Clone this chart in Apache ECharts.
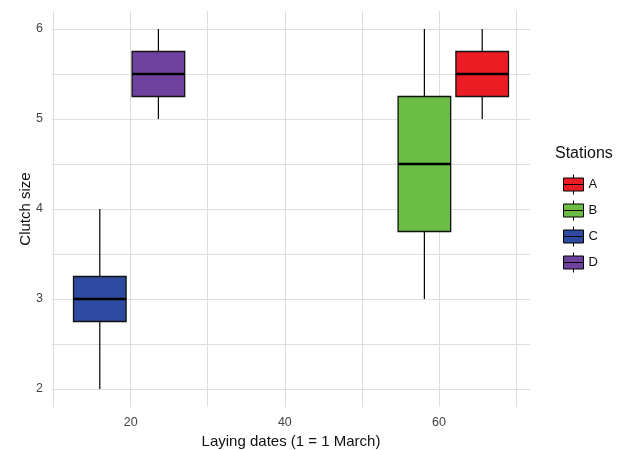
<!DOCTYPE html>
<html><head><meta charset="utf-8">
<script src="https://cdn.jsdelivr.net/npm/echarts@6/dist/echarts.min.js"></script>
<style>html,body{margin:0;padding:0;background:#fff}#c{width:623px;height:450px}</style>
</head><body><div id="c"></div>
<script>
// Stations and their box statistics: [x (laying date), min, Q1, median, Q3, max]
const stations = ['A', 'B', 'C', 'D'];
const stationColors = ['#ec1c24', '#6abd45', '#2f4ba1', '#7042a0'];
const boxA = [65.6, 5, 5.25, 5.5, 5.75, 6];
const boxB = [58.1, 3, 3.75, 4.5, 5.25, 6];
const boxC = [16.0, 2, 2.75, 3, 3.25, 4];
const boxD = [23.6, 5, 5.25, 5.5, 5.75, 6];
const boxes = [boxA, boxB, boxC, boxD];
const xTickLabels = [20, 40, 60];
const xGridValues = [10, 20, 30, 40, 50, 60, 70];
const yTickLabels = [2, 3, 4, 5, 6];
const yGridValues = [2, 2.5, 3, 3.5, 4, 4.5, 5, 5.5, 6];

const BOX_W = 6.82;
const FONT = '"Liberation Sans", Arial, sans-serif';
const iconPath = 'path://M0,3.5 L20,3.5 L20,16.5 L0,16.5 Z M0,10 L20,10 M10,0 L10,3.5 M10,16.5 L10,20';

function renderBox(params, api) {
  const x = api.value(0);
  const pMin = api.coord([x, api.value(1)]);
  const pQ1 = api.coord([x, api.value(2)]);
  const pMed = api.coord([x, api.value(3)]);
  const pQ3 = api.coord([x, api.value(4)]);
  const pMax = api.coord([x, api.value(5)]);
  const w = api.size([BOX_W, 0])[0];
  const cx = pMed[0];
  const color = api.visual('color');
  return {
    type: 'group',
    children: [
      {type: 'line', shape: {x1: cx, y1: pMax[1], x2: cx, y2: pQ3[1]}, style: {stroke: '#000', lineWidth: 1.2}},
      {type: 'line', shape: {x1: cx, y1: pQ1[1], x2: cx, y2: pMin[1]}, style: {stroke: '#000', lineWidth: 1.2}},
      {type: 'rect', shape: {x: cx - w / 2, y: pQ3[1], width: w, height: pQ1[1] - pQ3[1]}, style: {fill: color, stroke: '#111', lineWidth: 1.3}},
      {type: 'line', shape: {x1: cx - w / 2, y1: pMed[1], x2: cx + w / 2, y2: pMed[1]}, style: {stroke: '#000', lineWidth: 2.4}}
    ]
  };
}

const chart = echarts.init(document.getElementById('c'), null, {renderer: 'canvas'});
chart.setOption({
  animation: false,
  backgroundColor: '#fff',
  grid: {left: 52, right: 93, top: 11, bottom: 43, containLabel: false, outerBoundsMode: 'none'},
  xAxis: {
    type: 'value', min: 9.8, max: 71.8,
    name: 'Laying dates (1 = 1 March)', nameLocation: 'middle', nameGap: 27, nameMoveOverlap: false,
    nameTextStyle: {fontFamily: FONT, fontSize: 15, color: '#111'},
    axisLine: {show: false},
    axisTick: {show: false, customValues: xGridValues},
    axisLabel: {customValues: xTickLabels, fontFamily: FONT, fontSize: 12.5, color: '#444', margin: 9},
    splitLine: {show: true, lineStyle: {color: '#dedede', width: 1}}
  },
  yAxis: {
    type: 'value', min: 1.8, max: 6.2,
    name: 'Clutch size', nameLocation: 'middle', nameGap: 19, nameRotate: 90, nameMoveOverlap: false,
    nameTextStyle: {fontFamily: FONT, fontSize: 15, color: '#111'},
    axisLine: {show: false},
    axisTick: {show: false, customValues: yGridValues},
    axisLabel: {customValues: yTickLabels, fontFamily: FONT, fontSize: 12.5, color: '#444', margin: 9},
    splitLine: {show: true, lineStyle: {color: '#dedede', width: 1}}
  },
  legend: {
    orient: 'vertical', left: 558, top: 169, itemWidth: 20, itemHeight: 20, itemGap: 5,
    textStyle: {fontFamily: FONT, fontSize: 13, color: '#111'},
    itemStyle: {borderColor: '#000', borderWidth: 1},
    data: stations.map(s => ({name: s, icon: iconPath}))
  },
  graphic: [{
    type: 'text', left: 555, top: 146,
    style: {text: 'Stations', fontFamily: FONT, fontSize: 16, fill: '#111'}
  }],
  series: stations.map((s, i) => ({
    name: s, type: 'custom', renderItem: renderBox,
    itemStyle: {color: stationColors[i]},
    encode: {x: 0, y: [1, 2, 3, 4, 5]},
    data: [boxes[i]]
  }))
});
</script></body></html>
